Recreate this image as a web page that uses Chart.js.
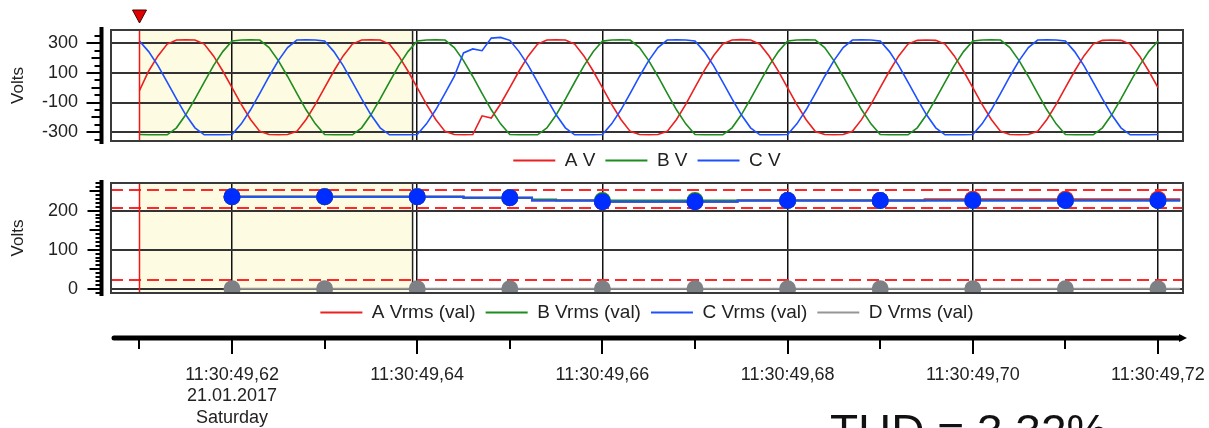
<!DOCTYPE html>
<html>
<head>
<meta charset="utf-8">
<script src="https://cdn.jsdelivr.net/npm/chart.js@4.4.1/dist/chart.umd.min.js"></script>
<style>
  html, body { margin: 0; padding: 0; background: #fff; overflow: hidden; width: 1209px; height: 428px; }
  #wrap { position: relative; width: 1209px; height: 428px; overflow: hidden; }
  canvas { position: absolute; left: 0; }
  #waveChart { top: 0; }
  #rmsChart { top: 172px; }
  #thd { position: absolute; left: 830px; top: 408px; font: 46px 'Liberation Sans', Arial, sans-serif; line-height: 46px; color: #111; white-space: nowrap; }
</style>
</head>
<body>
<div id="wrap">
  <canvas id="waveChart" width="1209" height="180"></canvas>
  <canvas id="rmsChart" width="1209" height="256"></canvas>
  <div id="thd">THD = 3.32%</div>
</div>
<script>
// sample time in ms after 11:30:49 (1 ms steps, starting at the cursor)
const waveStartMs = 610;

// instantaneous voltages (V)
const aVolts = [
  -20, 113, 215, 295, 322, 324, 322, 295, 215, 113, 0, -113, -215, -295, -316, -318, -316, -295, -215, -113,
  0, 113, 215, 295, 322, 324, 322, 295, 215, 113, 0, -113, -215, -295, -316, -318, -316, -190, -205, -110,
  0, 113, 215, 295, 322, 324, 322, 295, 215, 113, 0, -113, -215, -295, -316, -318, -316, -295, -215, -113,
  2, 115, 216, 296, 322, 325, 322, 294, 214, 112, -1, -114, -216, -296, -316, -318, -316, -294, -214, -112,
  0, 113, 215, 295, 320, 322, 320, 295, 215, 113, 0, -113, -215, -295, -316, -318, -316, -295, -215, -113,
  0, 113, 215, 295, 320, 322, 320, 295, 215, 113, 0
];
const bVolts = [
  -316, -318, -318, -318, -271, -183, -76, 38, 149, 244, 316, 322, 324, 322, 271, 183, 76, -38, -149, -244,
  -316, -318, -318, -318, -271, -183, -76, 38, 149, 244, 316, 322, 324, 322, 271, 183, 76, -38, -149, -244,
  -316, -318, -318, -318, -272, -184, -77, 37, 148, 243, 315, 322, 324, 322, 271, 183, 76, -38, -149, -244,
  -316, -318, -318, -318, -271, -183, -76, 38, 149, 244, 316, 322, 324, 322, 271, 183, 76, -38, -149, -244,
  -316, -318, -318, -318, -271, -183, -76, 38, 149, 244, 316, 322, 324, 322, 271, 183, 76, -38, -149, -244,
  -316, -318, -318, -318, -271, -183, -76, 38, 149, 244, 316
];
const cVolts = [
  316, 244, 149, 38, -76, -183, -271, -318, -318, -318, -316, -244, -149, -38, 76, 183, 271, 322, 324, 322,
  316, 244, 149, 38, -76, -183, -271, -318, -318, -318, -316, -244, -149, -38, 76, 235, 262, 250, 335, 340,
  320, 244, 149, 38, -76, -183, -271, -318, -318, -318, -316, -244, -149, -38, 76, 183, 271, 322, 324, 322,
  316, 244, 149, 38, -76, -183, -271, -318, -318, -318, -316, -244, -149, -38, 76, 183, 271, 322, 324, 322,
  316, 244, 149, 38, -76, -183, -271, -318, -318, -318, -316, -244, -149, -38, 76, 183, 271, 322, 324, 322,
  316, 244, 149, 38, -76, -183, -271, -318, -318, -318, -316
];
const waveTimes = aVolts.map((_, i) => waveStartMs + i);

// RMS traces (V): time of each step (ms) and value from there on
const rmsATimes = [620, 630, 640, 645, 650, 652.4, 660, 670, 674.6, 680, 690, 694.8, 700, 710, 720, 722.4];
const rmsAVals  = [236, 236, 236, 233, 233, 226, 223, 223, 226, 226, 226, 229.5, 229.5, 229.5, 229.5, 229.5];
const rmsBTimes = [620, 630, 640, 645, 650, 652.4, 655, 660, 670, 674.6, 680, 690, 700, 710, 720, 722.4];
const rmsBVals  = [236, 236, 236, 233, 233, 229, 226, 226, 226, 226, 226, 226, 226, 226, 226, 226];
const rmsCTimes = [620, 630, 640, 645, 650, 652.4, 660, 670, 674.6, 680, 690, 700, 710, 720, 722.4];
const rmsCVals  = [236, 236, 236, 233, 233, 226, 223, 223, 226, 226, 226, 226, 226, 226, 226];
const rmsDTimes = [620, 630, 640, 650, 660, 670, 680, 690, 700, 710, 720, 722.4];
const rmsDVals  = [0, 0, 0, 0, 0, 0, 0, 0, 0, 0, 0, 0];

// limit lines (V)
const limitVals = [253, 207, 23];

// cursor and highlighted span (ms)
const cursorMs = 610;
const shadeEndMs = 639.5;

// axes
const timeTicks = [610, 620, 630, 640, 650, 660, 670, 680, 690, 700, 710, 720];
const majorTimes = [620, 640, 660, 680, 700, 720];
const majorTimeLabels = ['11:30:49,62', '11:30:49,64', '11:30:49,66', '11:30:49,68', '11:30:49,70', '11:30:49,72'];
const firstDateLines = ['21.01.2017', 'Saturday'];
const waveGridY = [-300, -200, -100, 0, 100, 200, 300];
const waveLabelY = [300, 100, -100, -300];
const rmsGridY = [0, 50, 100, 150, 200, 250];
const rmsLabelY = [0, 100, 200];

const X_MIN = 606.93, X_MAX = 722.7;
const RED = 'rgb(235,32,32)', GREEN = 'rgb(30,140,30)', BLUE = 'rgb(30,80,255)', GRAY = 'rgb(150,150,150)';
const FONT = "'Liberation Sans', Arial, sans-serif";

Chart.defaults.font.family = FONT;
Chart.defaults.color = '#222';

function legendOpts() {
  return {
    position: 'bottom',
    fullSize: false,
    labels: {
      boxWidth: 42, boxHeight: 2, padding: 10, color: '#222', font: { size: 19 },
      sort: (a, b) => a.datasetIndex - b.datasetIndex,
      generateLabels: chart => Chart.defaults.plugins.legend.labels.generateLabels(chart)
        .map(l => Object.assign(l, { lineWidth: 0, fillStyle: l.strokeStyle }))
    }
  };
}

function yScale(min, max, grid, labels) {
  return {
    min: min, max: max,
    afterBuildTicks: s => { s.ticks = grid.map(v => ({ value: v })); },
    afterFit: s => { s.width = 111; s.paddingTop = 0; s.paddingBottom = 0; },
    ticks: { padding: 33, font: { size: 18 }, color: '#222', callback: v => labels.includes(v) ? String(v) : '' },
    grid: { color: '#333', lineWidth: 2, drawTicks: false },
    border: { display: false },
    title: { display: true, text: 'Volts', font: { size: 17 }, color: '#222', padding: { top: 8, bottom: 0 } }
  };
}

// yellow span, its edge line
const shadePlugin = {
  id: 'shade',
  beforeDraw(chart) {
    const { ctx, chartArea: a, scales: { x } } = chart;
    const x0 = x.getPixelForValue(cursorMs), x1 = x.getPixelForValue(shadeEndMs);
    ctx.save();
    ctx.fillStyle = '#fdfbe1';
    ctx.fillRect(x0, a.top, x1 - x0, a.bottom - a.top);
    ctx.strokeStyle = '#222';
    ctx.lineWidth = 1.5;
    ctx.beginPath(); ctx.moveTo(x1, a.top); ctx.lineTo(x1, a.bottom); ctx.stroke();
    ctx.restore();
  }
};

// cursor line, plot frame, ruler on the left
function frameAndRuler(rulerFrom, rulerTo, step, tickLen, withMarker) {
  return {
    id: 'frameRuler',
    afterDatasetsDraw(chart) {
      const { ctx, chartArea: a, scales: { x, y } } = chart;
      const cx = Math.round(x.getPixelForValue(cursorMs)) + 0.5;
      ctx.save();
      ctx.strokeStyle = 'rgb(245,20,20)';
      ctx.lineWidth = 1.5;
      ctx.beginPath(); ctx.moveTo(cx, a.top); ctx.lineTo(cx, a.bottom); ctx.stroke();
      ctx.strokeStyle = '#3a3a3a';
      ctx.lineWidth = 2;
      ctx.strokeRect(a.left, a.top, a.right - a.left, a.bottom - a.top);
      // ruler
      const ax = 101.5;
      ctx.strokeStyle = '#000';
      ctx.lineWidth = 4;
      ctx.beginPath(); ctx.moveTo(ax, a.top - 3); ctx.lineTo(ax, a.bottom + 3); ctx.stroke();
      ctx.lineWidth = 2;
      for (let v = rulerFrom; v <= rulerTo; v += step) {
        const py = Math.round(y.getPixelForValue(v));
        ctx.beginPath(); ctx.moveTo(ax - tickLen(v), py); ctx.lineTo(ax, py); ctx.stroke();
      }
      if (withMarker) {
        ctx.fillStyle = 'rgb(225,0,0)';
        ctx.strokeStyle = '#400';
        ctx.lineWidth = 1;
        ctx.beginPath();
        ctx.moveTo(cx - 7, 10); ctx.lineTo(cx + 7, 10); ctx.lineTo(cx, 23); ctx.closePath();
        ctx.fill(); ctx.stroke();
      }
      ctx.restore();
    }
  };
}

// ---------- upper chart: waveforms ----------
function waveSet(label, vals, color, order) {
  return {
    label: label,
    data: waveTimes.map((t, i) => ({ x: t, y: vals[i] })),
    borderColor: color, backgroundColor: color,
    borderWidth: 1.6, pointRadius: 0, tension: 0, order: order
  };
}

new Chart(document.getElementById('waveChart'), {
  type: 'line',
  data: { datasets: [waveSet('A V', aVolts, RED, 3), waveSet('B V', bVolts, GREEN, 2), waveSet('C V', cVolts, BLUE, 1)] },
  options: {
    responsive: false, animation: false, devicePixelRatio: 1,
    layout: { padding: { top: 30, right: 26, left: 0, bottom: 0 } },
    plugins: { legend: legendOpts(), tooltip: { enabled: false } },
    scales: {
      x: {
        type: 'linear', min: X_MIN, max: X_MAX,
        afterBuildTicks: s => { s.ticks = majorTimes.map(v => ({ value: v })); },
        ticks: { display: false },
        grid: { color: '#111', lineWidth: 1.5, drawTicks: false },
        border: { display: false }
      },
      y: yScale(-360, 390, waveGridY, waveLabelY)
    }
  },
  plugins: [shadePlugin, frameAndRuler(-350, 350, 50,
    v => waveLabelY.includes(v) ? 15 : (v % 100 === 0 ? 10 : 7), true)]
});

// ---------- lower chart: RMS values + time axis ----------
function rmsSet(label, times, vals, color, dotColor, order, clip) {
  return {
    label: label,
    data: times.map((t, i) => ({ x: t, y: vals[i] })),
    borderColor: color, backgroundColor: color,
    pointBackgroundColor: dotColor, pointBorderWidth: 0,
    pointRadius: ctx => (ctx.raw && ctx.raw.x % 10 === 0) ? 8.5 : 0,
    borderWidth: 2, stepped: true, tension: 0, order: order, clip: clip
  };
}

const limitPlugin = {
  id: 'limits',
  beforeDatasetsDraw(chart) {
    const { ctx, chartArea: a, scales: { y } } = chart;
    ctx.save();
    ctx.strokeStyle = 'rgb(255,40,40)';
    ctx.lineWidth = 2;
    ctx.setLineDash([12, 6]);
    limitVals.forEach(v => {
      const py = Math.round(y.getPixelForValue(v));
      ctx.beginPath(); ctx.moveTo(a.left, py); ctx.lineTo(a.right, py); ctx.stroke();
    });
    ctx.restore();
  }
};

const timeAxisPlugin = {
  id: 'timeAxis',
  afterDraw(chart) {
    const { ctx, scales: { x } } = chart;
    const y0 = x.top + 6;
    ctx.save();
    ctx.strokeStyle = '#000'; ctx.fillStyle = '#000';
    ctx.lineWidth = 5; ctx.lineCap = 'round';
    ctx.beginPath(); ctx.moveTo(x.left + 3, y0); ctx.lineTo(x.right - 2, y0); ctx.stroke();
    ctx.beginPath(); ctx.moveTo(x.right - 4, y0 - 4); ctx.lineTo(x.right + 4, y0); ctx.lineTo(x.right - 4, y0 + 4); ctx.fill();
    ctx.lineWidth = 2; ctx.lineCap = 'butt';
    timeTicks.forEach(v => {
      const px = Math.round(x.getPixelForValue(v));
      ctx.beginPath(); ctx.moveTo(px, y0); ctx.lineTo(px, y0 + (majorTimes.includes(v) ? 16 : 11)); ctx.stroke();
    });
    ctx.restore();
  }
};

new Chart(document.getElementById('rmsChart'), {
  type: 'line',
  data: {
    datasets: [
      rmsSet('A Vrms (val)', rmsATimes, rmsAVals, RED, RED, 3, undefined),
      rmsSet('B Vrms (val)', rmsBTimes, rmsBVals, GREEN, GREEN, 2, undefined),
      rmsSet('C Vrms (val)', rmsCTimes, rmsCVals, BLUE, 'rgb(0,45,255)', 1, undefined),
      rmsSet('D Vrms (val)', rmsDTimes, rmsDVals, GRAY, 'rgb(125,128,133)', 4, 0)
    ]
  },
  options: {
    responsive: false, animation: false, devicePixelRatio: 1,
    layout: { padding: { top: 11, right: 26, left: 0, bottom: 0 } },
    plugins: { legend: legendOpts(), tooltip: { enabled: false } },
    scales: {
      x: {
        type: 'linear', min: X_MIN, max: X_MAX, weight: 2000,
        afterBuildTicks: s => { s.ticks = timeTicks.map(v => ({ value: v })); },
        afterFit: s => { s.height = 96; s.paddingLeft = 0; s.paddingRight = 0; },
        ticks: {
          autoSkip: false, maxRotation: 0, minRotation: 0, padding: 32,
          font: { size: 18 }, color: '#222',
          callback: v => {
            const k = majorTimes.indexOf(v);
            if (k < 0) return '';
            return k === 0 ? [majorTimeLabels[0]].concat(firstDateLines) : majorTimeLabels[k];
          }
        },
        grid: {
          color: ctx => (ctx.tick && majorTimes.includes(ctx.tick.value)) ? '#111' : 'rgba(0,0,0,0)',
          lineWidth: 1.5, drawTicks: false
        },
        border: { display: false }
      },
      y: yScale(-11, 271, rmsGridY, rmsLabelY)
    }
  },
  plugins: [shadePlugin, limitPlugin, frameAndRuler(-10, 270, 10,
    v => v % 100 === 0 ? 14 : (v % 50 === 0 ? 12 : 6), false), timeAxisPlugin]
});
</script>
</body>
</html>
